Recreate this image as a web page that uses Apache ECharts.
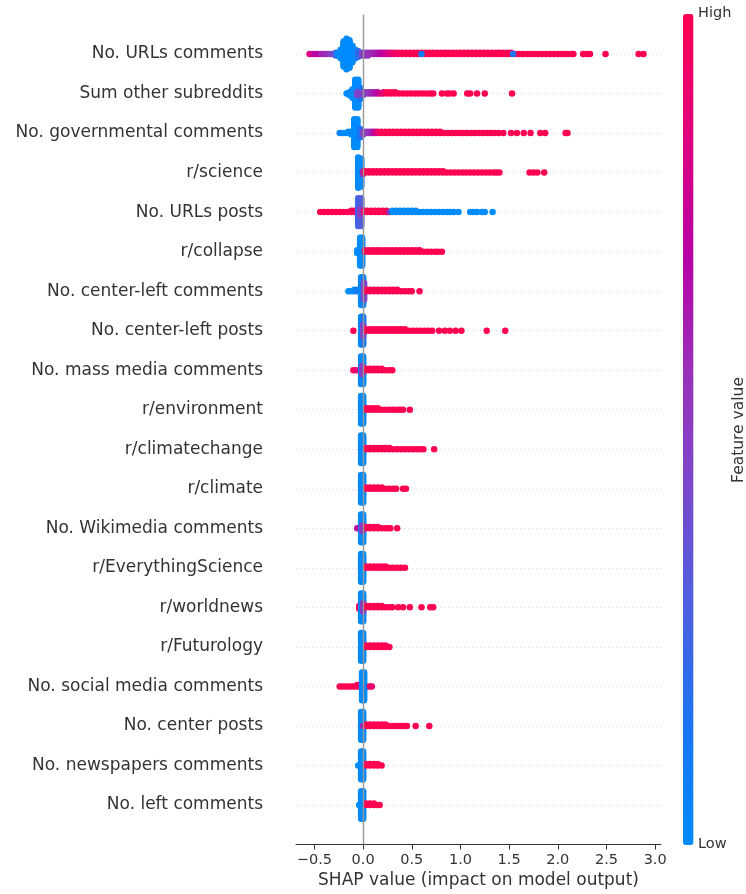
<!DOCTYPE html>
<html>
<head>
<meta charset="utf-8">
<script src="https://cdn.jsdelivr.net/npm/echarts@6/dist/echarts.min.js"></script>
<style>
  html, body { margin: 0; padding: 0; background: #fff; }
  #shap-summary { width: 746px; height: 894px; }
</style>
</head>
<body>
<div id="shap-summary"></div>
<script>
// feature names, top to bottom
const features = [
  'No. URLs comments', 'Sum other subreddits', 'No. governmental comments', 'r/science',
  'No. URLs posts', 'r/collapse', 'No. center-left comments', 'No. center-left posts',
  'No. mass media comments', 'r/environment', 'r/climatechange', 'r/climate',
  'No. Wikimedia comments', 'r/EverythingScience', 'r/worldnews', 'r/Futurology',
  'No. social media comments', 'No. center posts', 'No. newspapers comments', 'No. left comments'
];
const xTicks = [-0.5, 0, 0.5, 1, 1.5, 2, 2.5, 3];

// each point: [shap value, how many samples sit there, feature value 0..1]
const urlsComments = [
  [-0.55,1,0.85],[-0.52,1,0.8],[-0.49,1,0.7],[-0.46,1,0.72],[-0.43,1,0.6],[-0.40,1,0.62],[-0.37,1,0.55],[-0.34,1,0.5],[-0.31,1,0.42],[-0.28,3,0.3],
  [-0.26,3,0],[-0.23,7,0],[-0.20,19,0],[-0.17,23,0],[-0.14,21,0],[-0.11,13,0],[-0.08,7,0],[-0.05,5,0.2],
  [-0.01,3,0.45],[0.02,3,0.5],[0.05,3,0.55],[0.08,2,0.58],[0.11,2,0.6],[0.14,2,0.65],[0.17,2,0.68],[0.2,2,0.72],[0.23,2,0.78],[0.26,2,0.82],[0.29,2,0.88],
  [0.32,2,0.92],[0.36,2,0.95],[0.4,2,1],[0.44,2,1],[0.48,2,1],[0.52,2,1],[0.56,2,1],[0.6,2,1],[0.64,2,1],[0.68,2,1],[0.72,2,1],[0.76,2,1],[0.8,2,1],
  [0.84,2,1],[0.88,2,1],[0.92,2,1],[0.96,2,1],[1.0,2,1],[1.04,2,1],[1.08,2,1],[1.12,2,1],[1.16,2,1],[1.2,2,1],[1.24,2,1],[1.28,2,1],[1.32,2,1],
  [1.36,2,1],[1.4,2,1],[1.44,2,1],[1.48,2,1],[1.52,2,1],[1.56,1,1],[1.6,1,1],[1.64,1,1],[1.68,1,1],[1.72,1,1],[1.76,1,1],[1.8,1,1],[1.84,1,1],
  [1.88,1,1],[1.92,1,1],[1.96,1,1],[2.0,1,1],[2.04,1,1],[2.07,1,1],[2.1,1,1],[2.14,1,1],[2.16,1,1],[2.26,1,1],[2.3,1,1],[2.33,1,1],[2.49,1,1],
  [2.83,1,1],[2.88,1,1],[0.6,1,0.1],[1.54,1,0.15]
];
const sumOtherSubreddits = [
  [-0.17,1,0],[-0.14,3,0],[-0.11,7,0],[-0.08,21,0],[-0.05,21,0],[-0.03,9,0.1],[-0.06,3,0.45],
  [0.0,3,0.45],[0.03,2,0.5],[0.06,2,0.55],[0.09,2,0.6],[0.12,2,0.65],[0.15,2,0.72],[0.18,1,0.8],
  [0.21,2,0.9],[0.25,2,1],[0.29,2,1],[0.33,2,1],[0.37,1,1],[0.41,1,1],[0.45,1,1],[0.49,1,1],[0.53,1,1],[0.57,1,1],[0.61,1,1],
  [0.65,1,1],[0.69,1,1],[0.72,1,1],[0.81,1,1],[0.86,1,1],[0.89,1,1],[0.93,1,1],[1.07,1,1],[1.1,1,1],[1.17,1,1],[1.25,1,1],[1.53,1,1]
];
const governmentalComments = [
  [-0.24,1,0.05],[-0.21,1,0],[-0.18,1,0],[-0.15,2,0],[-0.12,3,0],[-0.09,21,0],[-0.06,21,0],[-0.03,7,0.15],
  [0.0,3,0.45],[0.03,2,0.5],[0.06,2,0.55],[0.09,2,0.62],[0.12,2,0.75],[0.15,2,0.9],
  [0.19,2,1],[0.23,2,1],[0.27,2,1],[0.31,2,1],[0.35,2,1],[0.39,2,1],[0.43,2,1],[0.47,2,1],[0.51,2,1],[0.55,2,1],[0.59,2,1],[0.63,2,1],
  [0.67,2,1],[0.71,2,1],[0.75,2,1],[0.79,2,1],[0.83,1,1],[0.87,1,1],[0.91,1,1],[0.95,1,1],[0.99,1,1],[1.03,1,1],[1.07,1,1],[1.11,1,1],
  [1.15,1,1],[1.19,1,1],[1.23,1,1],[1.27,1,1],[1.31,1,1],[1.35,1,1],[1.39,1,1],[1.44,1,1],[1.52,1,1],[1.58,1,1],[1.65,1,1],[1.72,1,1],
  [1.82,1,1],[1.87,1,1],[2.08,1,1],[2.1,1,1]
];
const science = [
  [-0.05,23,0],[-0.02,21,0],[0.0,3,0.6],
  [0.02,2,1],[0.06,2,1],[0.1,2,1],[0.14,2,1],[0.18,2,1],[0.22,2,1],[0.26,2,1],[0.3,2,1],[0.34,2,1],[0.38,2,1],[0.42,2,1],[0.46,2,1],
  [0.5,2,1],[0.54,2,1],[0.58,2,1],[0.62,2,1],[0.66,2,1],[0.7,2,1],[0.74,2,1],[0.78,2,1],[0.82,2,1],[0.86,1,1],[0.9,1,1],[0.94,1,1],
  [0.98,1,1],[1.02,1,1],[1.06,1,1],[1.1,1,1],[1.14,1,1],[1.18,1,1],[1.22,1,1],[1.26,1,1],[1.3,1,1],[1.34,1,1],[1.37,1,1],[1.4,1,1],
  [1.71,1,1],[1.75,1,1],[1.79,1,1],[1.86,1,1]
];
const urlsPosts = [
  [-0.44,1,1],[-0.4,1,1],[-0.36,1,1],[-0.32,1,1],[-0.28,1,1],[-0.24,1,1],[-0.2,1,1],[-0.16,1,1],[-0.12,2,1],[-0.09,2,0.95],
  [-0.05,21,0.25],[-0.02,21,0.3],[-0.03,5,0.5],
  [0.01,2,0.9],[0.04,2,1],[0.08,2,1],[0.12,2,1],[0.16,2,1],[0.2,2,1],[0.24,2,1],[0.27,1,0.6],
  [0.3,2,0],[0.34,2,0],[0.38,2,0],[0.42,2,0],[0.46,2,0],[0.5,2,0],[0.54,2,0],[0.58,1,0],[0.62,1,0],[0.66,1,0],[0.7,1,0],[0.74,1,0],
  [0.78,1,0],[0.82,1,0],[0.86,1,0],[0.89,1,0],[0.93,1,0],[0.98,1,0],[1.1,1,0],[1.13,1,0],[1.17,1,0],[1.22,1,0],[1.25,1,0],[1.33,1,0]
];
const collapse = [
  [-0.06,3,0],[-0.03,21,0],[-0.01,21,0],
  [0.02,2,1],[0.06,2,1],[0.1,2,1],[0.14,2,1],[0.18,2,1],[0.22,2,1],[0.26,2,1],[0.3,2,1],[0.34,2,1],[0.38,2,1],[0.42,2,1],[0.46,2,1],
  [0.5,2,1],[0.54,2,1],[0.58,2,1],[0.62,1,1],[0.66,1,1],[0.7,1,1],[0.74,1,1],[0.77,1,1],[0.81,1,1]
];
const centerLeftComments = [
  [-0.15,1,0],[-0.12,1,0],[-0.09,2,0],[-0.06,2,0.1],[-0.02,21,0],[0.0,21,0.05],[0.01,13,0.45],
  [0.03,2,1],[0.07,2,1],[0.11,2,1],[0.15,2,1],[0.19,2,1],[0.23,2,1],[0.27,2,1],[0.31,2,1],[0.35,2,1],[0.39,1,1],[0.43,1,1],[0.47,1,1],
  [0.5,1,1],[0.58,1,1]
];
const centerLeftPosts = [
  [-0.1,1,1],[-0.02,21,0],[0.0,21,0.1],[0.0,9,0.45],
  [0.03,2,1],[0.07,2,1],[0.11,2,1],[0.15,2,1],[0.19,2,1],[0.23,2,1],[0.27,2,1],[0.31,2,1],[0.35,2,1],[0.39,2,1],[0.43,2,1],[0.47,1,1],
  [0.51,1,1],[0.55,1,1],[0.59,1,1],[0.63,1,1],[0.67,1,1],[0.71,1,1],[0.78,1,1],[0.84,1,1],[0.89,1,1],[0.95,1,1],[1.01,1,1],[1.27,1,1],[1.46,1,1]
];
const massMediaComments = [
  [-0.1,1,1],[-0.07,1,0.9],[-0.02,21,0],[0.0,21,0],[-0.01,7,0.5],
  [0.03,2,1],[0.07,2,1],[0.11,2,1],[0.15,2,1],[0.19,2,1],[0.23,1,1],[0.27,1,1],[0.3,1,1]
];
const environment = [
  [-0.02,21,0],[0.0,21,0],
  [0.03,2,1],[0.07,2,1],[0.11,2,1],[0.15,2,1],[0.19,1,1],[0.23,1,1],[0.27,1,1],[0.31,1,1],[0.35,1,1],[0.38,1,1],[0.41,1,1],[0.48,1,1]
];
const climatechange = [
  [-0.02,21,0],[0.0,21,0],
  [0.03,2,1],[0.07,2,1],[0.11,2,1],[0.15,2,1],[0.19,2,1],[0.23,2,1],[0.27,2,1],[0.31,1,1],[0.35,1,1],[0.39,1,1],[0.43,1,1],[0.47,1,1],
  [0.51,1,1],[0.55,1,1],[0.58,1,1],[0.62,1,1],[0.73,1,1]
];
const climate = [
  [-0.02,21,0],[0.0,21,0],
  [0.03,2,1],[0.07,2,1],[0.11,2,1],[0.15,2,1],[0.19,2,1],[0.23,1,1],[0.27,1,1],[0.31,1,1],[0.34,1,1],[0.41,1,1],[0.44,1,1]
];
const wikimediaComments = [
  [-0.06,1,0.75],[-0.02,21,0],[0.0,21,0],[-0.01,5,0.5],
  [0.03,2,1],[0.07,2,1],[0.11,2,1],[0.15,2,1],[0.19,1,1],[0.23,1,1],[0.26,1,1],[0.28,1,1],[0.35,1,1]
];
const everythingScience = [
  [-0.02,21,0],[0.0,21,0],
  [0.03,2,1],[0.07,2,1],[0.11,2,1],[0.15,2,1],[0.19,2,1],[0.23,2,1],[0.27,1,1],[0.31,1,1],[0.35,1,1],[0.39,1,1],[0.43,1,1]
];
const worldnews = [
  [-0.04,3,1],[-0.02,21,0],[0.0,21,0],[0.0,7,0.5],
  [0.03,2,1],[0.07,2,1],[0.11,2,1],[0.15,2,1],[0.19,2,1],[0.23,1,1],[0.27,1,1],[0.3,1,1],[0.36,1,1],[0.41,1,1],[0.48,1,1],
  [0.6,1,1],[0.69,1,1],[0.72,1,1]
];
const futurology = [
  [-0.02,21,0],[0.0,21,0],
  [0.03,2,1],[0.07,2,1],[0.11,2,1],[0.15,2,1],[0.19,2,1],[0.23,2,1],[0.27,1,1]
];
const socialMediaComments = [
  [-0.24,1,1],[-0.21,1,1],[-0.18,1,1],[-0.15,1,1],[-0.12,1,1],[-0.09,1,1],[-0.06,2,1],[-0.03,2,0.9],
  [-0.01,21,0],[0.01,21,0],[0.04,1,0.1],[0.07,1,1],[0.09,1,0.9]
];
const centerPosts = [
  [-0.02,21,0],[0.0,21,0],[0.0,1,0.6],
  [0.03,2,1],[0.07,2,1],[0.11,2,1],[0.15,2,1],[0.19,2,1],[0.23,2,1],[0.27,1,1],[0.31,1,1],[0.35,1,1],[0.38,1,1],[0.41,1,1],
  [0.45,1,1],[0.54,1,1],[0.68,1,1]
];
const newspapersComments = [
  [-0.05,1,0],[-0.02,21,0],[0.0,21,0],
  [0.03,2,1],[0.07,2,1],[0.11,2,1],[0.15,2,1],[0.19,1,1]
];
const leftComments = [
  [-0.04,1,0],[-0.02,21,0],[0.0,21,0],
  [0.03,2,1],[0.07,2,1],[0.11,2,1],[0.14,1,1],[0.17,1,1]
];

const rows = [
  urlsComments, sumOtherSubreddits, governmentalComments, science, urlsPosts, collapse,
  centerLeftComments, centerLeftPosts, massMediaComments, environment, climatechange, climate,
  wikimediaComments, everythingScience, worldnews, futurology, socialMediaComments, centerPosts,
  newspapersComments, leftComments
];

// beeswarm layout: samples at the same value are piled up and down around the row
const PILE_STEP = 0.035;
const points = [];
rows.forEach((pts, i) => {
  const y0 = features.length - 1 - i;
  pts.forEach(([x, n, fv]) => {
    for (let k = 0; k < n; k++) {
      const layer = k === 0 ? 0 : (k % 2 ? (k + 1) / 2 : -k / 2);
      points.push([x, y0 + layer * PILE_STEP, fv]);
    }
  });
});

const font = 'DejaVu Sans';
const rowLineColors = ['rgba(0,0,0,0)'];
for (let i = 0; i < features.length; i++) rowLineColors.push('#cccccc');
rowLineColors.push('rgba(0,0,0,0)');

const fmtTick = v => (v < 0 ? '\u2212' : '') + Math.abs(v).toFixed(1);

const chart = echarts.init(document.getElementById('shap-summary'));
chart.setOption({
  animation: false,
  backgroundColor: '#fff',
  textStyle: { fontFamily: font },
  grid: { left: 296, right: 85, top: 14.5, bottom: 49.5, outerBoundsMode: 'none', containLabel: false },
  xAxis: {
    type: 'value',
    min: -0.689,
    max: 3.06,
    axisLine: { onZero: false, lineStyle: { color: '#333', width: 1 } },
    axisTick: { show: true, customValues: xTicks, length: 5, lineStyle: { color: '#333' } },
    axisLabel: { customValues: xTicks, formatter: fmtTick, fontSize: 14.5, color: '#333', margin: 8, fontFamily: font },
    splitLine: { show: false },
    name: 'SHAP value (impact on model output)',
    nameLocation: 'middle',
    nameGap: 28,
    nameTextStyle: { fontSize: 17, color: '#333', fontFamily: font }
  },
  yAxis: {
    type: 'value',
    min: -1,
    max: 20,
    interval: 1,
    axisLine: { show: false, onZero: false },
    axisTick: { show: false },
    axisLabel: {
      fontSize: 17,
      color: '#333',
      margin: 33,
      padding: [3, 0, 0, 0],
      fontFamily: font,
      formatter: v => (v >= 0 && v < features.length ? features[features.length - 1 - v] : '')
    },
    splitLine: { show: true, lineStyle: { color: rowLineColors, width: 0.8, type: [1, 3] } }
  },
  visualMap: {
    type: 'continuous',
    min: 0,
    max: 1,
    dimension: 2,
    seriesIndex: 1,
    calculable: false,
    hoverLink: false,
    left: 683,
    top: 14,
    padding: 0,
    itemWidth: 10.5,
    itemHeight: 831,
    text: null,
    showLabel: false,
    inRange: {
      color: ['#008bfb', '#1a74f2', '#4d60e0', '#7a48cc', '#9a30b8', '#b800a5', '#e0007c', '#ff0052']
    }
  },
  graphic: [
    { type: 'text', left: 698, top: 6, style: { text: 'High', font: '14.5px "DejaVu Sans"', fill: '#333' } },
    { type: 'text', left: 698, top: 837, style: { text: 'Low', font: '14.5px "DejaVu Sans"', fill: '#333' } },
    {
      type: 'text', x: 739, y: 430, rotation: Math.PI / 2,
      style: { text: 'Feature value', font: '15.5px "DejaVu Sans"', fill: '#333', align: 'center', verticalAlign: 'middle' }
    }
  ],
  series: [
    {
      type: 'line',
      data: [],
      z: 1,
      markLine: {
        silent: true,
        symbol: 'none',
        label: { show: false },
        lineStyle: { color: '#999', width: 1.4, type: 'solid' },
        data: [{ xAxis: 0 }]
      }
    },
    {
      type: 'scatter',
      data: points,
      symbolSize: 6.5,
      z: 2,
      large: false,
      progressive: 0,
      silent: true,
      itemStyle: { opacity: 1 }
    }
  ]
});
</script>
</body>
</html>
